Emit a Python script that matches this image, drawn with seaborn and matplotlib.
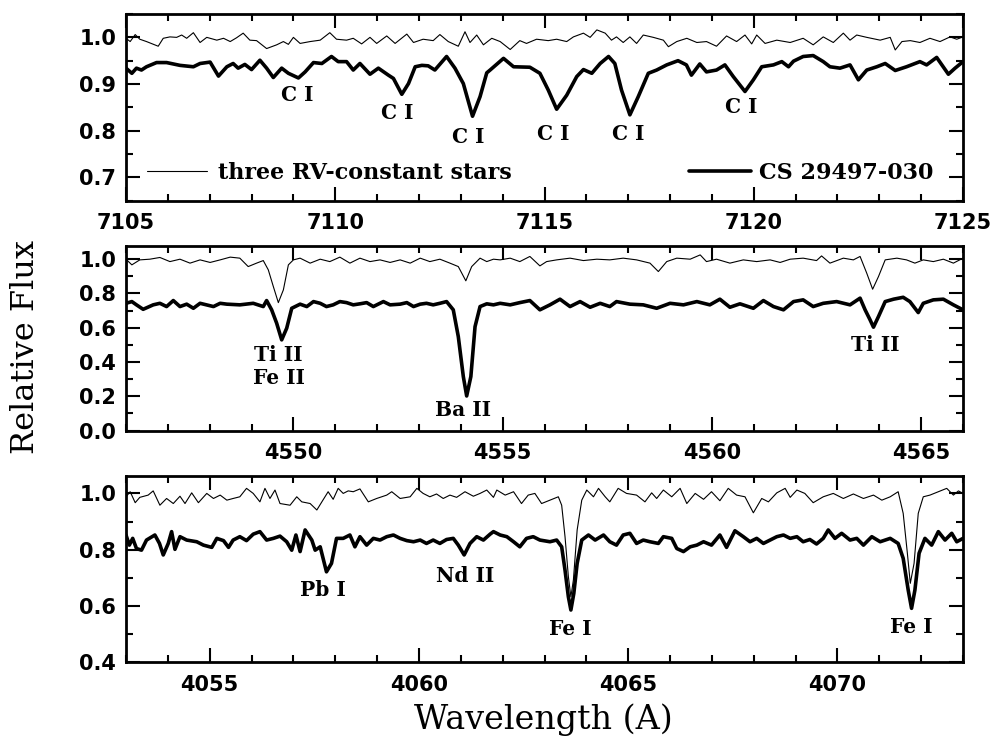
import numpy as np
import matplotlib
matplotlib.use("Agg")
import matplotlib.pyplot as plt
from matplotlib.lines import Line2D
from matplotlib.ticker import MultipleLocator, FormatStrFormatter
import seaborn as sns

# --- data: (wavelength, relative flux) ---
# top panel, C I region
c_thick = [
    (7105.00, 0.934), (7105.14, 0.923), (7105.25, 0.934), (7105.37, 0.930), (7105.49, 0.937),
    (7105.73, 0.946), (7105.97, 0.946), (7106.29, 0.940), (7106.61, 0.937), (7106.77, 0.944),
    (7107.01, 0.947), (7107.21, 0.917), (7107.41, 0.937), (7107.56, 0.944), (7107.68, 0.934),
    (7107.84, 0.942), (7108.00, 0.931), (7108.20, 0.951), (7108.36, 0.934), (7108.52, 0.914),
    (7108.72, 0.934), (7108.88, 0.923), (7109.12, 0.913), (7109.28, 0.926), (7109.48, 0.946),
    (7109.68, 0.944), (7109.91, 0.959), (7110.07, 0.948), (7110.27, 0.948), (7110.43, 0.930),
    (7110.59, 0.944), (7110.83, 0.921), (7111.03, 0.934), (7111.27, 0.919), (7111.39, 0.912),
    (7111.59, 0.878), (7111.75, 0.901), (7111.91, 0.937), (7112.07, 0.940), (7112.22, 0.939),
    (7112.38, 0.930), (7112.66, 0.959), (7112.86, 0.934), (7113.06, 0.901), (7113.28, 0.831),
    (7113.46, 0.873), (7113.62, 0.924), (7113.70, 0.930), (7114.02, 0.955), (7114.26, 0.937),
    (7114.65, 0.936), (7114.89, 0.923), (7115.09, 0.887), (7115.29, 0.846), (7115.53, 0.876),
    (7115.77, 0.916), (7115.93, 0.931), (7116.13, 0.923), (7116.33, 0.944), (7116.53, 0.959),
    (7116.68, 0.944), (7116.84, 0.887), (7117.04, 0.834), (7117.24, 0.873), (7117.48, 0.923),
    (7117.68, 0.930), (7117.92, 0.941), (7118.19, 0.950), (7118.39, 0.941), (7118.51, 0.919),
    (7118.71, 0.943), (7118.87, 0.926), (7119.11, 0.930), (7119.31, 0.941), (7119.51, 0.916),
    (7119.79, 0.884), (7119.99, 0.909), (7120.19, 0.937), (7120.47, 0.941), (7120.67, 0.948),
    (7120.83, 0.937), (7120.95, 0.949), (7121.18, 0.959), (7121.42, 0.961), (7121.66, 0.948),
    (7121.82, 0.937), (7122.06, 0.934), (7122.30, 0.941), (7122.50, 0.909), (7122.70, 0.930),
    (7122.94, 0.937), (7123.14, 0.944), (7123.38, 0.929), (7123.65, 0.937), (7123.97, 0.948),
    (7124.13, 0.941), (7124.37, 0.957), (7124.65, 0.921), (7124.81, 0.934), (7125.00, 0.948),
]
c_thin = [
    (7105.00, 0.998), (7105.10, 0.991), (7105.22, 1.006), (7105.33, 0.996), (7105.49, 0.991),
    (7105.77, 0.981), (7105.89, 0.998), (7106.05, 1.001), (7106.21, 1.000), (7106.33, 1.005),
    (7106.45, 0.998), (7106.61, 1.010), (7106.77, 0.989), (7106.93, 1.000), (7107.17, 0.994),
    (7107.33, 0.998), (7107.49, 0.991), (7107.64, 0.999), (7107.80, 1.009), (7107.96, 0.994),
    (7108.12, 0.993), (7108.36, 0.976), (7108.60, 0.984), (7108.76, 0.991), (7108.88, 0.985),
    (7109.00, 1.000), (7109.16, 0.987), (7109.40, 0.991), (7109.64, 0.994), (7109.87, 1.010),
    (7110.03, 0.996), (7110.27, 0.994), (7110.43, 0.998), (7110.63, 0.986), (7110.83, 1.000),
    (7110.99, 0.987), (7111.23, 1.003), (7111.43, 0.987), (7111.71, 1.007), (7111.87, 0.989),
    (7112.10, 0.996), (7112.34, 0.993), (7112.50, 1.006), (7112.70, 0.991), (7112.94, 0.981),
    (7113.10, 1.012), (7113.22, 0.989), (7113.38, 1.005), (7113.54, 0.984), (7113.74, 0.998),
    (7113.94, 0.991), (7114.18, 0.974), (7114.41, 0.993), (7114.57, 0.987), (7114.81, 0.996),
    (7115.09, 0.993), (7115.29, 0.996), (7115.53, 0.991), (7115.69, 1.001), (7115.93, 1.009),
    (7116.09, 1.000), (7116.25, 1.016), (7116.45, 1.009), (7116.60, 0.994), (7116.72, 1.001),
    (7116.88, 0.989), (7117.04, 1.001), (7117.20, 0.987), (7117.36, 1.005), (7117.60, 1.000),
    (7117.84, 0.994), (7117.96, 0.980), (7118.16, 0.991), (7118.40, 0.998), (7118.64, 0.989),
    (7118.87, 0.991), (7119.11, 0.981), (7119.35, 1.003), (7119.59, 0.991), (7119.79, 1.005),
    (7119.95, 0.986), (7120.07, 1.005), (7120.27, 0.987), (7120.55, 0.994), (7120.87, 0.989),
    (7121.18, 0.998), (7121.42, 0.984), (7121.66, 1.001), (7121.90, 0.989), (7122.14, 1.009),
    (7122.30, 0.994), (7122.46, 1.005), (7122.70, 1.000), (7123.02, 0.994), (7123.26, 1.000),
    (7123.38, 0.973), (7123.54, 0.991), (7123.74, 0.993), (7123.97, 0.989), (7124.21, 0.998),
    (7124.45, 0.991), (7124.69, 1.001), (7124.85, 0.996), (7125.00, 1.001),
]

# middle panel, Ba II region
ba_thick = [
    (4546.00, 0.742), (4546.14, 0.752), (4546.25, 0.733), (4546.41, 0.707), (4546.65, 0.733),
    (4546.81, 0.742), (4546.97, 0.723), (4547.13, 0.758), (4547.29, 0.723), (4547.45, 0.737),
    (4547.61, 0.713), (4547.77, 0.742), (4548.09, 0.723), (4548.25, 0.742), (4548.41, 0.737),
    (4548.72, 0.733), (4549.04, 0.742), (4549.28, 0.723), (4549.36, 0.758), (4549.48, 0.704),
    (4549.60, 0.626), (4549.72, 0.529), (4549.84, 0.597), (4549.96, 0.713), (4550.16, 0.737),
    (4550.32, 0.723), (4550.48, 0.752), (4550.64, 0.742), (4550.79, 0.723), (4550.95, 0.733),
    (4551.11, 0.752), (4551.27, 0.746), (4551.43, 0.733), (4551.59, 0.739), (4551.75, 0.746),
    (4551.91, 0.723), (4552.15, 0.752), (4552.31, 0.733), (4552.55, 0.737), (4552.71, 0.746),
    (4552.87, 0.723), (4553.03, 0.737), (4553.18, 0.742), (4553.34, 0.733), (4553.50, 0.742),
    (4553.66, 0.752), (4553.82, 0.704), (4553.94, 0.548), (4554.06, 0.315), (4554.14, 0.202),
    (4554.24, 0.315), (4554.34, 0.606), (4554.46, 0.723), (4554.62, 0.739), (4554.78, 0.733),
    (4554.94, 0.742), (4555.18, 0.733), (4555.41, 0.746), (4555.65, 0.758), (4555.89, 0.704),
    (4556.13, 0.733), (4556.37, 0.766), (4556.61, 0.723), (4556.85, 0.752), (4557.09, 0.719),
    (4557.33, 0.742), (4557.56, 0.723), (4557.72, 0.752), (4558.04, 0.737), (4558.36, 0.733),
    (4558.68, 0.713), (4559.00, 0.742), (4559.32, 0.733), (4559.64, 0.752), (4559.95, 0.733),
    (4560.19, 0.766), (4560.43, 0.719), (4560.67, 0.739), (4560.99, 0.713), (4561.23, 0.758),
    (4561.47, 0.723), (4561.71, 0.704), (4561.95, 0.752), (4562.18, 0.762), (4562.42, 0.723),
    (4562.66, 0.742), (4562.98, 0.752), (4563.30, 0.733), (4563.54, 0.772), (4563.66, 0.704),
    (4563.78, 0.645), (4563.86, 0.603), (4563.98, 0.665), (4564.14, 0.752), (4564.34, 0.766),
    (4564.57, 0.777), (4564.73, 0.752), (4564.93, 0.688), (4565.05, 0.742), (4565.29, 0.762),
    (4565.53, 0.766), (4565.77, 0.733), (4566.00, 0.704),
]
ba_thin = [
    (4546.00, 0.999), (4546.14, 0.966), (4546.33, 0.995), (4546.57, 0.999), (4546.81, 1.009),
    (4547.05, 0.985), (4547.29, 0.999), (4547.53, 0.976), (4547.77, 0.995), (4548.01, 0.980),
    (4548.25, 0.995), (4548.49, 1.011), (4548.72, 1.005), (4548.92, 0.956), (4549.12, 0.976),
    (4549.28, 0.991), (4549.40, 0.937), (4549.52, 0.840), (4549.64, 0.746), (4549.76, 0.820),
    (4549.88, 0.966), (4550.00, 0.995), (4550.16, 1.005), (4550.40, 0.976), (4550.64, 0.999),
    (4550.87, 0.985), (4551.11, 1.011), (4551.35, 0.976), (4551.59, 1.005), (4551.83, 0.985),
    (4552.07, 0.995), (4552.31, 0.980), (4552.55, 0.995), (4552.79, 0.976), (4553.03, 1.005),
    (4553.26, 0.985), (4553.50, 0.999), (4553.74, 0.976), (4553.94, 0.956), (4554.12, 0.873),
    (4554.26, 0.956), (4554.46, 1.005), (4554.62, 0.985), (4554.78, 0.999), (4554.94, 0.995),
    (4555.18, 1.005), (4555.41, 0.985), (4555.65, 1.015), (4555.89, 0.960), (4556.05, 0.985),
    (4556.29, 0.995), (4556.61, 1.005), (4556.93, 0.991), (4557.25, 0.999), (4557.56, 0.995),
    (4557.88, 1.005), (4558.20, 0.995), (4558.52, 0.976), (4558.72, 0.927), (4558.92, 0.985),
    (4559.16, 1.005), (4559.48, 0.999), (4559.72, 1.024), (4559.87, 0.985), (4560.11, 0.999),
    (4560.43, 0.976), (4560.75, 0.995), (4561.07, 0.985), (4561.39, 0.995), (4561.63, 0.980),
    (4561.87, 0.999), (4562.18, 1.005), (4562.50, 0.991), (4562.62, 1.018), (4562.82, 0.976),
    (4563.14, 1.005), (4563.38, 0.995), (4563.54, 1.015), (4563.70, 0.917), (4563.84, 0.824),
    (4563.98, 0.898), (4564.14, 0.995), (4564.42, 1.005), (4564.65, 0.995), (4564.85, 0.976),
    (4565.05, 0.995), (4565.29, 0.985), (4565.53, 0.999), (4565.77, 0.976), (4566.00, 1.005),
]

# bottom panel, Pb I region
pb_thick = [
    (4053.00, 0.852), (4053.08, 0.816), (4053.16, 0.840), (4053.25, 0.804), (4053.37, 0.798),
    (4053.49, 0.834), (4053.69, 0.852), (4053.80, 0.822), (4053.89, 0.781), (4054.01, 0.822),
    (4054.09, 0.864), (4054.17, 0.801), (4054.29, 0.846), (4054.45, 0.834), (4054.69, 0.828),
    (4054.85, 0.816), (4055.05, 0.808), (4055.17, 0.840), (4055.33, 0.832), (4055.45, 0.808),
    (4055.56, 0.834), (4055.72, 0.846), (4055.88, 0.832), (4056.04, 0.855), (4056.20, 0.864),
    (4056.36, 0.834), (4056.52, 0.840), (4056.68, 0.848), (4056.84, 0.828), (4056.96, 0.798),
    (4057.06, 0.852), (4057.16, 0.793), (4057.28, 0.870), (4057.44, 0.834), (4057.52, 0.798),
    (4057.64, 0.810), (4057.79, 0.721), (4057.91, 0.751), (4058.03, 0.840), (4058.19, 0.840),
    (4058.35, 0.852), (4058.47, 0.810), (4058.59, 0.846), (4058.75, 0.816), (4058.91, 0.840),
    (4059.07, 0.834), (4059.23, 0.846), (4059.39, 0.852), (4059.55, 0.840), (4059.71, 0.832),
    (4059.87, 0.828), (4060.03, 0.834), (4060.18, 0.822), (4060.34, 0.834), (4060.50, 0.822),
    (4060.66, 0.836), (4060.82, 0.840), (4060.94, 0.816), (4061.08, 0.781), (4061.22, 0.822),
    (4061.38, 0.846), (4061.54, 0.834), (4061.70, 0.855), (4061.78, 0.864), (4061.94, 0.852),
    (4062.10, 0.846), (4062.26, 0.828), (4062.41, 0.810), (4062.57, 0.840), (4062.73, 0.846),
    (4062.89, 0.834), (4063.13, 0.828), (4063.29, 0.834), (4063.41, 0.810), (4063.49, 0.727),
    (4063.57, 0.632), (4063.63, 0.585), (4063.70, 0.644), (4063.78, 0.751), (4063.89, 0.834),
    (4064.05, 0.852), (4064.21, 0.834), (4064.41, 0.852), (4064.56, 0.828), (4064.72, 0.816),
    (4064.88, 0.852), (4065.04, 0.858), (4065.20, 0.822), (4065.36, 0.834), (4065.52, 0.828),
    (4065.72, 0.822), (4065.84, 0.846), (4066.04, 0.840), (4066.16, 0.804), (4066.32, 0.793),
    (4066.48, 0.810), (4066.64, 0.816), (4066.80, 0.828), (4066.99, 0.816), (4067.19, 0.852),
    (4067.35, 0.808), (4067.55, 0.867), (4067.75, 0.846), (4067.91, 0.828), (4068.07, 0.840),
    (4068.23, 0.822), (4068.39, 0.834), (4068.55, 0.846), (4068.71, 0.852), (4068.87, 0.840),
    (4069.03, 0.846), (4069.18, 0.828), (4069.34, 0.836), (4069.50, 0.820), (4069.66, 0.840),
    (4069.78, 0.870), (4069.94, 0.840), (4070.10, 0.858), (4070.30, 0.834), (4070.46, 0.840),
    (4070.62, 0.816), (4070.82, 0.846), (4071.02, 0.828), (4071.26, 0.840), (4071.45, 0.822),
    (4071.57, 0.769), (4071.69, 0.656), (4071.77, 0.591), (4071.85, 0.656), (4071.95, 0.787),
    (4072.09, 0.840), (4072.25, 0.816), (4072.41, 0.864), (4072.57, 0.834), (4072.73, 0.858),
    (4072.85, 0.828), (4073.00, 0.840),
]
pb_thin = [
    (4053.00, 0.988), (4053.10, 1.006), (4053.22, 0.967), (4053.33, 0.986), (4053.53, 0.994),
    (4053.65, 1.009), (4053.81, 0.958), (4053.97, 0.982), (4054.13, 0.964), (4054.29, 0.990),
    (4054.41, 0.964), (4054.57, 1.002), (4054.73, 0.967), (4054.93, 1.000), (4055.09, 0.982),
    (4055.25, 0.994), (4055.41, 0.976), (4055.56, 0.982), (4055.72, 0.988), (4055.88, 1.018),
    (4056.04, 1.000), (4056.20, 0.970), (4056.32, 1.018), (4056.44, 0.982), (4056.56, 1.012),
    (4056.68, 0.964), (4056.92, 0.958), (4057.08, 0.988), (4057.20, 0.970), (4057.40, 0.964),
    (4057.56, 0.941), (4057.68, 0.970), (4057.83, 1.006), (4057.95, 0.979), (4058.07, 1.018),
    (4058.19, 1.000), (4058.31, 1.009), (4058.43, 1.006), (4058.59, 1.016), (4058.79, 0.970),
    (4058.99, 0.982), (4059.23, 0.994), (4059.35, 1.006), (4059.55, 0.982), (4059.79, 0.988),
    (4059.95, 1.018), (4060.10, 1.000), (4060.26, 0.988), (4060.42, 0.998), (4060.58, 0.982),
    (4060.74, 0.994), (4060.90, 0.986), (4061.10, 1.006), (4061.30, 0.990), (4061.46, 1.000),
    (4061.62, 1.012), (4061.78, 0.986), (4061.86, 1.012), (4062.06, 0.994), (4062.26, 1.006),
    (4062.45, 0.964), (4062.61, 0.994), (4062.77, 1.000), (4062.93, 0.964), (4063.13, 0.976),
    (4063.33, 0.988), (4063.41, 0.958), (4063.49, 0.846), (4063.57, 0.704), (4063.63, 0.632),
    (4063.69, 0.692), (4063.78, 0.870), (4063.89, 0.976), (4064.01, 1.012), (4064.17, 0.988),
    (4064.29, 1.018), (4064.45, 0.988), (4064.56, 0.970), (4064.76, 1.018), (4064.96, 1.000),
    (4065.20, 0.994), (4065.40, 0.970), (4065.56, 1.002), (4065.68, 0.982), (4065.84, 1.012),
    (4066.04, 0.988), (4066.24, 1.018), (4066.40, 0.964), (4066.60, 1.000), (4066.80, 0.979),
    (4066.99, 1.006), (4067.19, 0.974), (4067.39, 1.018), (4067.59, 0.994), (4067.79, 0.988),
    (4067.99, 0.931), (4068.19, 0.982), (4068.35, 0.970), (4068.55, 1.002), (4068.75, 1.018),
    (4068.87, 0.986), (4069.03, 1.012), (4069.22, 1.000), (4069.42, 0.967), (4069.66, 0.988),
    (4069.90, 1.000), (4070.14, 0.982), (4070.38, 0.998), (4070.62, 0.982), (4070.86, 0.994),
    (4071.06, 0.976), (4071.26, 0.988), (4071.45, 1.006), (4071.57, 0.929), (4071.67, 0.787),
    (4071.74, 0.680), (4071.83, 0.751), (4071.93, 0.929), (4072.05, 0.988), (4072.21, 0.994),
    (4072.41, 1.006), (4072.61, 1.018), (4072.77, 0.994), (4072.89, 1.009), (4073.00, 1.000),
]

# line identifications: name, wavelength, flux level of the label
c_names = ["C I", "C I", "C I", "C I", "C I", "C I"]
c_wl = [7109.10, 7111.47, 7113.18, 7115.20, 7117.00, 7119.71]
c_lab_y = [0.876, 0.837, 0.787, 0.794, 0.794, 0.850]

ba_names = ["Ti II", "Fe II", "Ba II", "Ti II"]
ba_wl = [4549.64, 4549.66, 4554.06, 4563.90]
ba_lab_y = [0.441, 0.305, 0.120, 0.500]

pb_names = ["Pb I", "Nd II", "Fe I", "Fe I"]
pb_wl = [4057.70, 4061.10, 4063.61, 4071.77]
pb_lab_y = [0.656, 0.706, 0.516, 0.526]

# --- style ---
sns.set_theme(style="ticks")
plt.rcParams["font.family"] = ["DejaVu Sans"]
plt.rcParams["font.weight"] = "bold"
plt.rcParams["text.color"] = "black"
plt.rcParams["legend.labelcolor"] = "black"
plt.rcParams["axes.linewidth"] = 2.0

fig = plt.figure(figsize=(9.96, 7.42), dpi=100)
fig.patch.set_facecolor("white")

panels = [
    dict(thick=c_thick, thin=c_thin, xlim=(7105, 7125), ylim=(0.65, 1.05),
         ymajor=0.1, yminor=0.05, names=c_names, wl=c_wl, laby=c_lab_y,
         rect=[0.1265, 0.7295, 0.8404, 0.2516]),
    dict(thick=ba_thick, thin=ba_thin, xlim=(4546, 4566), ylim=(0.0, 1.076),
         ymajor=0.2, yminor=0.1, names=ba_names, wl=ba_wl, laby=ba_lab_y,
         rect=[0.1265, 0.4196, 0.8404, 0.2489]),
    dict(thick=pb_thick, thin=pb_thin, xlim=(4053, 4073), ylim=(0.4, 1.062),
         ymajor=0.2, yminor=0.1, names=pb_names, wl=pb_wl, laby=pb_lab_y,
         rect=[0.1265, 0.1078, 0.8404, 0.2507]),
]

thick_lw = 2.6
thin_lw = 0.8
axes = []
for p in panels:
    ax = fig.add_axes(p["rect"])
    ax.set_facecolor("white")
    thin = np.array(p["thin"])
    thick = np.array(p["thick"])
    sns.lineplot(x=thin[:, 0], y=thin[:, 1], ax=ax, color="black", lw=thin_lw,
                 estimator=None, sort=False)
    sns.lineplot(x=thick[:, 0], y=thick[:, 1], ax=ax, color="black", lw=thick_lw,
                 estimator=None, sort=False)
    ax.set_xlim(*p["xlim"])
    ax.set_ylim(*p["ylim"])
    ax.xaxis.set_major_locator(MultipleLocator(5))
    ax.xaxis.set_minor_locator(MultipleLocator(1))
    ax.yaxis.set_major_locator(MultipleLocator(p["ymajor"]))
    ax.yaxis.set_minor_locator(MultipleLocator(p["yminor"]))
    ax.yaxis.set_major_formatter(FormatStrFormatter("%.1f"))
    ax.tick_params(which="both", direction="in", top=True, right=True,
                   color="black", width=1.5, labelsize=15, labelcolor="black")
    ax.tick_params(which="major", length=10)
    ax.tick_params(which="minor", length=5)
    ax.tick_params(axis="x", pad=9)
    ax.tick_params(axis="y", pad=7)
    for s in ax.spines.values():
        s.set_color("black")
        s.set_linewidth(2.0)
    for name, w, y in zip(p["names"], p["wl"], p["laby"]):
        ax.text(w, y, name, ha="center", va="center", fontsize=14.5,
                family="DejaVu Serif", fontweight="bold", color="black")
    ax.set_xlabel("")
    ax.set_ylabel("")
    axes.append(ax)

# legend in the top panel, one entry on each side
ax0 = axes[0]
leg1 = ax0.legend(handles=[Line2D([], [], color="black", lw=thin_lw)],
                  labels=["three RV-constant stars"], loc="center left",
                  bbox_to_anchor=(0.0247, 0.15), frameon=False, handlelength=2.7,
                  handletextpad=0.5, borderpad=0, borderaxespad=0,
                  prop=dict(family="DejaVu Serif", weight="bold", size=16))
ax0.add_artist(leg1)
ax0.legend(handles=[Line2D([], [], color="black", lw=thick_lw)],
           labels=["CS 29497-030"], loc="center right",
           bbox_to_anchor=(0.9645, 0.15), frameon=False, handlelength=2.8,
           handletextpad=0.35, borderpad=0, borderaxespad=0,
           prop=dict(family="DejaVu Serif", weight="bold", size=16))

fig.text(0.026, 0.532, "Relative Flux", rotation=90, ha="center", va="center",
         fontsize=23, family="DejaVu Serif", fontweight="normal", color="black")
fig.text(0.546, 0.0175, "Wavelength (A)", ha="center", va="baseline",
         fontsize=24, family="DejaVu Serif", fontweight="normal", color="black")

fig.savefig("out.png", dpi=100, facecolor="white")
